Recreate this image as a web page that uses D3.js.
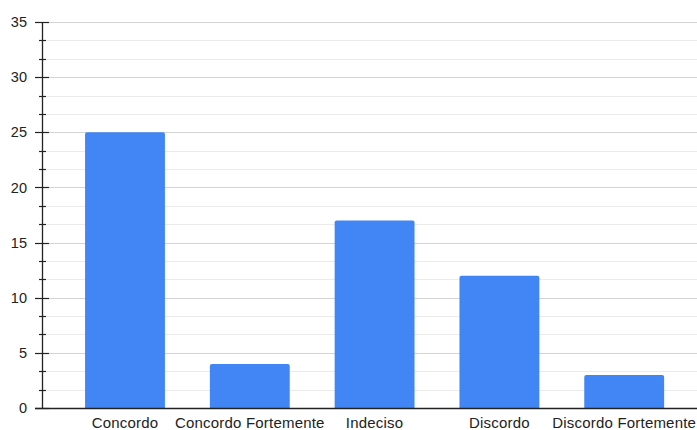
<!DOCTYPE html>
<html>
<head>
<meta charset="utf-8">
<script src="https://cdn.jsdelivr.net/npm/d3@7"></script>
<style>
  html, body { margin: 0; padding: 0; background: #fff; }
  svg { display: block; }
  text { font-family: "Liberation Sans", Arial, sans-serif; fill: #222; }
</style>
</head>
<body>
<svg id="chart" width="697" height="430"></svg>
<script>
// Responses per answer option
const categories = ["Concordo", "Concordo Fortemente", "Indeciso", "Discordo", "Discordo Fortemente"];
const counts = [25, 4, 17, 12, 3];
const yTicks = [0, 5, 10, 15, 20, 25, 30, 35];
const minorPerMajor = 3;

const svg = d3.select("#chart");
const W = 697;
const axisX = 42;

const y = d3.scaleLinear().domain([0, 35]).range([408, 22]);
const x = d3.scaleBand()
  .domain(categories)
  .range([62.6, 686.6])
  .paddingInner(0.36)
  .paddingOuter(0.18);

// minor subdivisions between major ticks
const minorTicks = [];
for (let i = 0; i < yTicks.length - 1; i++) {
  const step = (yTicks[i + 1] - yTicks[i]) / minorPerMajor;
  for (let k = 1; k < minorPerMajor; k++) minorTicks.push(yTicks[i] + k * step);
}

// gridlines
svg.append("g").selectAll("line.minor").data(minorTicks).join("line")
  .attr("x1", axisX).attr("x2", W)
  .attr("y1", d => Math.round(y(d)) + 0.5).attr("y2", d => Math.round(y(d)) + 0.5)
  .attr("stroke", "#ebebeb").attr("stroke-width", 1);
svg.append("g").selectAll("line.major").data(yTicks.slice(1)).join("line")
  .attr("x1", axisX).attr("x2", W)
  .attr("y1", d => Math.round(y(d)) + 0.5).attr("y2", d => Math.round(y(d)) + 0.5)
  .attr("stroke", "#d4d4d4").attr("stroke-width", 1);

// bars
svg.append("g").selectAll("path").data(categories).join("path")
  .attr("fill", "#4285f4")
  .attr("d", (c, i) => {
    const x0 = x(c), w = x.bandwidth(), y0 = y(counts[i]), y1 = y(0), r = 2;
    return `M${x0},${y1}V${y0 + r}Q${x0},${y0} ${x0 + r},${y0}H${x0 + w - r}Q${x0 + w},${y0} ${x0 + w},${y0 + r}V${y1}Z`;
  });

// y axis
const yAxis = svg.append("g");
yAxis.append("line")
  .attr("x1", axisX + 0.5).attr("x2", axisX + 0.5)
  .attr("y1", y(35)).attr("y2", y(0))
  .attr("stroke", "#222").attr("stroke-width", 1.3);
yAxis.selectAll("line.minorTick").data(minorTicks).join("line")
  .attr("x1", axisX - 3).attr("x2", axisX + 4)
  .attr("y1", d => Math.round(y(d)) + 0.5).attr("y2", d => Math.round(y(d)) + 0.5)
  .attr("stroke", "#222").attr("stroke-width", 1.2);
yAxis.selectAll("line.majorTick").data(yTicks).join("line")
  .attr("x1", axisX - 7).attr("x2", axisX + 7)
  .attr("y1", d => Math.round(y(d)) + 0.5).attr("y2", d => Math.round(y(d)) + 0.5)
  .attr("stroke", "#222").attr("stroke-width", 1.2);
yAxis.selectAll("text").data(yTicks).join("text")
  .attr("x", 27).attr("y", d => y(d))
  .attr("dy", "0.35em")
  .attr("text-anchor", "end")
  .style("font-size", "14.5px")
  .text(d => d);

// baseline
svg.append("line")
  .attr("x1", axisX - 7).attr("x2", W)
  .attr("y1", Math.round(y(0)) + 0.5).attr("y2", Math.round(y(0)) + 0.5)
  .attr("stroke", "#222").attr("stroke-width", 1.3);

// category labels
svg.append("g").selectAll("text").data(categories).join("text")
  .attr("x", c => x(c) + x.bandwidth() / 2)
  .attr("y", 428)
  .attr("text-anchor", "middle")
  .style("font-size", "15px")
  .style("letter-spacing", "0.2px")
  .text(c => c);
</script>
</body>
</html>
